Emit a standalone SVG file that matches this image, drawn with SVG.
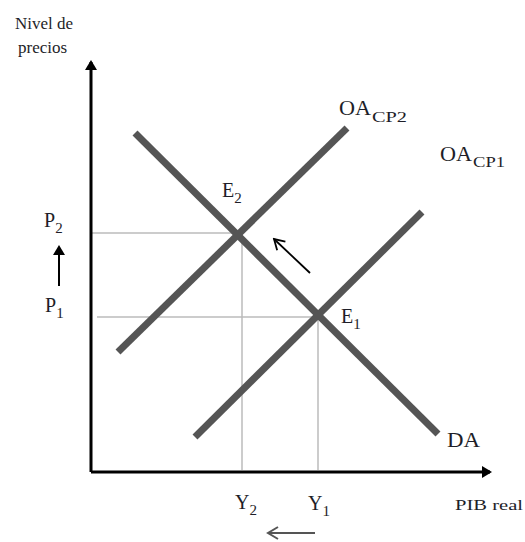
<svg xmlns="http://www.w3.org/2000/svg" width="525" height="542" viewBox="0 0 525 542">
<defs>
<style>
text{font-family:"Liberation Serif","Times New Roman",serif;fill:#1e1e28;font-size:20px}
.sub{font-size:15px}
.guide{stroke:#bbb;stroke-width:1.5;fill:none}
.curve{stroke:#555;stroke-width:7;fill:none}
.axis{stroke:#000;stroke-width:3;fill:none}
</style>
<marker id="fh" markerWidth="10" markerHeight="12" refX="8" refY="6" orient="auto" markerUnits="userSpaceOnUse" viewBox="0 0 10 12"><path d="M0,0 L10,6 L0,12 z" fill="#000"/></marker>
<marker id="oh" markerWidth="14" markerHeight="14" refX="12" refY="7" orient="auto" markerUnits="userSpaceOnUse" viewBox="0 0 14 14"><path d="M2,1 L12,7 L2,13" fill="none" stroke="#000" stroke-width="1.8"/></marker>
<marker id="ohg" markerWidth="14" markerHeight="14" refX="12" refY="7" orient="auto" markerUnits="userSpaceOnUse" viewBox="0 0 14 14"><path d="M2,1 L12,7 L2,13" fill="none" stroke="#555" stroke-width="2"/></marker>
</defs>
<g id="connectors">
<line class="guide" x1="91" y1="233" x2="238" y2="233"/>
<line class="guide" x1="242" y1="233" x2="242" y2="470"/>
<line class="guide" x1="97" y1="317" x2="318" y2="317"/>
<line class="guide" x1="318" y1="317" x2="318" y2="470"/>
<line class="axis" x1="91" y1="472" x2="91" y2="62" marker-end="url(#fh)"/>
<line class="axis" x1="91" y1="472" x2="490" y2="472" marker-end="url(#fh)"/>
<line class="curve" x1="135" y1="133" x2="438" y2="434"/>
<line class="curve" x1="118" y1="352" x2="347" y2="128"/>
<line class="curve" x1="195" y1="437" x2="422" y2="212"/>
<line x1="310" y1="273" x2="274" y2="239" stroke="#000" stroke-width="1.8" marker-end="url(#oh)"/>
<line x1="59" y1="286" x2="59" y2="247" stroke="#000" stroke-width="2" marker-end="url(#fh)"/>
<line x1="315" y1="533" x2="268" y2="533" stroke="#555" stroke-width="2" marker-end="url(#ohg)"/>
</g>
<g id="axis-labels">
<text x="15" y="29" style="font-size:17px">Nivel de</text>
<text x="18" y="53" style="font-size:17px">precios</text>
<text x="455" y="510" style="font-size:15px" textLength="68" lengthAdjust="spacingAndGlyphs">PIB real</text>
</g>
<g id="P2"><text x="44" y="227">P<tspan class="sub" dy="6">2</tspan></text></g>
<g id="P1"><text x="45" y="312">P<tspan class="sub" dy="6">1</tspan></text></g>
<g id="E2"><text x="222" y="197">E<tspan class="sub" dy="6">2</tspan></text></g>
<g id="E1"><text x="341" y="323">E<tspan class="sub" dy="6">1</tspan></text></g>
<g id="OA_CP2"><text x="339" y="115" textLength="32" lengthAdjust="spacingAndGlyphs">OA</text><text class="sub" x="372" y="122" textLength="35" lengthAdjust="spacingAndGlyphs">CP2</text></g>
<g id="OA_CP1"><text x="440" y="161" textLength="32" lengthAdjust="spacingAndGlyphs">OA</text><text class="sub" x="473" y="167" textLength="32" lengthAdjust="spacingAndGlyphs">CP1</text></g>
<g id="DA"><text x="447" y="447" textLength="33" lengthAdjust="spacingAndGlyphs">DA</text></g>
<g id="Y2"><text x="235" y="509">Y<tspan class="sub" dy="6">2</tspan></text></g>
<g id="Y1"><text x="308" y="510">Y<tspan class="sub" dy="6">1</tspan></text></g>
</svg>
